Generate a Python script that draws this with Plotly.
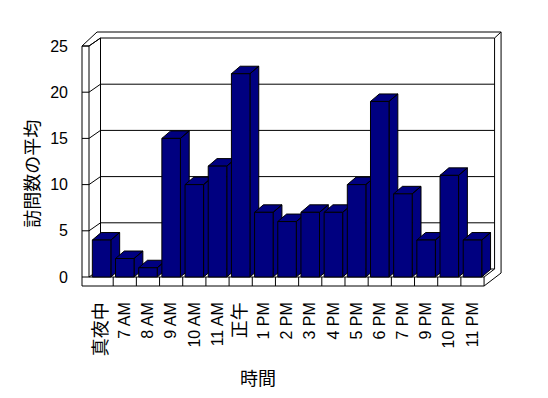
import plotly.graph_objects as go

# ---------------- data ----------------
categories = ["真夜中", "7 AM", "8 AM", "9 AM", "10 AM", "11 AM", "正午", "1 PM", "2 PM",
              "3 PM", "4 PM", "5 PM", "6 PM", "7 PM", "9 PM", "10 PM", "11 PM"]
values = [4, 2, 1, 15, 10, 12, 22, 7, 6, 7, 7, 10, 19, 9, 4, 11, 4]
y_ticks = [0, 5, 10, 15, 20, 25]
y_title = "訪問数の平均"
x_title = "時間"

# ---------------- geometry (pixels) ----------------
W, H = 548, 398
PL, PR, PT, PB = 80, 503, 30, 289          # plot box in pixels
PX_PER_CAT = 23.18
FIRST_CENTER_PX = 101.6
ZERO_PX = 277
PX_PER_UNIT = 9.24

def ux(p):
    return p / PX_PER_CAT

def uy(p):
    return p / PX_PER_UNIT

x_range = [(PL - FIRST_CENTER_PX) / PX_PER_CAT, (PR - FIRST_CENTER_PX) / PX_PER_CAT]
y_range = [(ZERO_PX - PB) / PX_PER_UNIT, (ZERO_PX - PT) / PX_PER_UNIT]

def paper_x(p):
    return (p - PL) / (PR - PL)

def paper_y(p):
    return (PB - p) / (PB - PT)

N = len(categories)
ymax = max(y_ticks)
xL, xR = -0.5, N - 0.5
DXW, DYW = ux(10.5), uy(8)          # wall depth offset
LW_o, LW_i = xL - ux(8), xL - ux(1)  # left wall front face
floor_th = uy(9)
TOPO = uy(14)
XO = xR + DXW + ux(6.5)

NAVY = "#000080"
lines = []
# left wall
lines += [(LW_o, ymax, LW_o, -floor_th), (LW_i, ymax, LW_i, 0), (LW_o, ymax, LW_i, ymax),
          (LW_o, ymax, xL + ux(7), ymax + TOPO), (LW_i, ymax, xL + DXW, ymax + DYW),
          (xL + DXW, DYW, xL + DXW, ymax + DYW)]
# back wall
lines += [(xL + ux(7), ymax + TOPO, XO, ymax + TOPO),
          (xR + DXW, DYW, xR + DXW, ymax + DYW),
          (XO, ymax + TOPO, XO, uy(4)),
          (xR + DXW, ymax + DYW, XO, ymax + TOPO)]
for v in y_ticks:
    lines.append((xL + DXW, v + DYW, xR + DXW, v + DYW))
    lines.append((LW_o, v, LW_i, v))
    lines.append((LW_i, v, xL + DXW, v + DYW))
# floor
lines += [(LW_o, -floor_th, xR, -floor_th), (LW_i, 0, xR, 0), (xR, 0, xR, -floor_th),
          (xR, -floor_th, XO, uy(4)), (xR, 0, xR + DXW, DYW)]
for k in range(1, N):
    lines.append((xL + k, 0, xL + k, -floor_th))

shapes = [dict(type="line", xref="x", yref="y", x0=a, y0=b, x1=c, y1=d, layer="below",
               line=dict(color="black", width=1)) for a, b, c, d in lines]

fig = go.Figure()

# 3D sides and tops of the bars (drawn below the front faces)
BW = 0.8
dxb, dyb = ux(8.8), uy(7.5)
for i, v in enumerate(values):
    l, r = i - BW / 2, i + BW / 2
    xs = [r, r + dxb, r + dxb, r, r, None, l, l + dxb, r + dxb, r, l]
    ys = [0, dyb, v + dyb, v, 0, None, v, v + dyb, v + dyb, v, v]
    fig.add_trace(go.Scatter(x=xs, y=ys, mode="lines", fill="toself", fillcolor=NAVY,
                             line=dict(color="black", width=1), hoverinfo="skip",
                             showlegend=False))

# front faces
fig.add_trace(go.Bar(x=list(range(N)), y=values, width=BW, marker=dict(color=NAVY,
                     line=dict(color="black", width=1)), xaxis="x2", yaxis="y2",
                     showlegend=False, hoverinfo="skip"))

ticktext = [f'<span style="font-size:18px">{c}</span>' if not c[0].isdigit() else c
            for c in categories]

FONT = "Liberation Sans, Noto Sans CJK JP, sans-serif"
fig.update_layout(
    width=W, height=H,
    margin=dict(l=PL, r=W - PR, t=PT, b=H - PB, pad=0),
    paper_bgcolor="white", plot_bgcolor="white",
    font=dict(family=FONT, size=16, color="black"),
    xaxis=dict(range=x_range, tickmode="array", tickvals=list(range(N)), ticktext=ticktext,
               tickangle=-90, ticks="", showgrid=False, zeroline=False, showline=False,
               ticklabelstandoff=9, fixedrange=True),
    yaxis=dict(range=y_range, tickmode="array", tickvals=y_ticks,
               ticktext=[str(t) for t in y_ticks], ticks="", showgrid=False,
               zeroline=False, showline=False, ticklabelstandoff=11, fixedrange=True),
    xaxis2=dict(range=x_range, overlaying="x", visible=False, anchor="y2"),
    yaxis2=dict(range=y_range, overlaying="y", visible=False, anchor="x2"),
    shapes=shapes,
    annotations=[
        dict(text=y_title, xref="paper", yref="paper", x=paper_x(30.7), y=paper_y(174),
             textangle=-90, showarrow=False, xanchor="center", yanchor="middle",
             font=dict(family="Noto Sans CJK JP", size=18)),
        dict(text=x_title, xref="paper", yref="paper", x=paper_x(258), y=paper_y(377),
             showarrow=False, xanchor="center", yanchor="middle",
             font=dict(family="Noto Sans CJK JP", size=18)),
    ],
    showlegend=False,
)

fig.write_html("out.html", config={"displayModeBar": False},
               post_script="document.body.style.margin='0px';")
